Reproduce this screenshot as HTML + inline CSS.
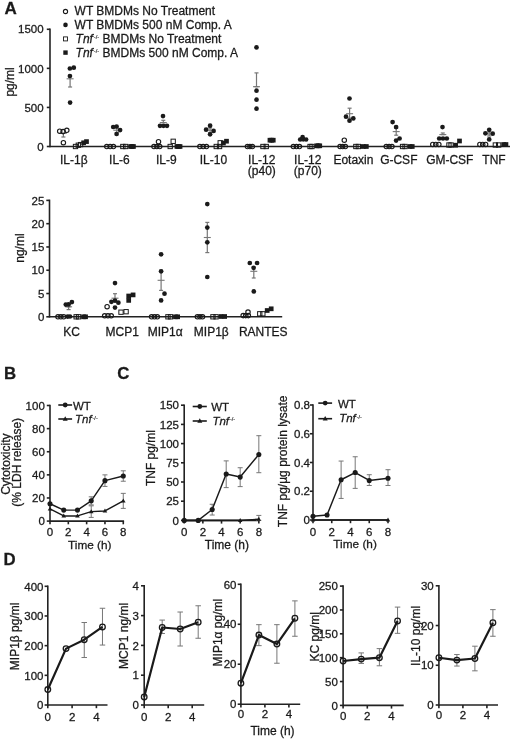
<!DOCTYPE html>
<html><head><meta charset="utf-8"><style>
html,body{margin:0;padding:0;background:#fff;}
svg{display:block;font-family:"Liberation Sans",sans-serif;will-change:transform;}
text{stroke:#1a1a1a;stroke-width:0.28px;}
</style></head><body>
<svg width="520" height="739" viewBox="0 0 520 739" fill="#1a1a1a">
<text x="4.4" y="13.6" font-size="17" font-weight="bold">A</text>
<text x="3.9" y="378.7" font-size="16.8" font-weight="bold">B</text>
<text x="117.3" y="378.7" font-size="16.8" font-weight="bold">C</text>
<text x="3.6" y="564.8" font-size="16.8" font-weight="bold">D</text>
<line x1="50" y1="28.5" x2="50" y2="147.3" stroke="#222" stroke-width="1.6"/>
<line x1="50" y1="146.5" x2="510" y2="146.5" stroke="#222" stroke-width="1.6"/>
<line x1="46.8" y1="146.5" x2="50" y2="146.5" stroke="#222" stroke-width="1.6"/>
<text x="43.6" y="150.7" font-size="11.5" text-anchor="end">0</text>
<line x1="46.8" y1="107.43" x2="50" y2="107.43" stroke="#222" stroke-width="1.6"/>
<text x="43.6" y="111.63" font-size="11.5" text-anchor="end">500</text>
<line x1="46.8" y1="68.36" x2="50" y2="68.36" stroke="#222" stroke-width="1.6"/>
<text x="43.6" y="72.56" font-size="11.5" text-anchor="end">1000</text>
<line x1="46.8" y1="29.29" x2="50" y2="29.29" stroke="#222" stroke-width="1.6"/>
<text x="43.6" y="33.49" font-size="11.5" text-anchor="end">1500</text>
<text x="13.6" y="81.9" font-size="12" text-anchor="middle" transform="rotate(-90 13.6 81.9)">pg/ml</text>
<text x="73.8" y="163.9" font-size="12" text-anchor="middle">IL-1β</text>
<text x="119.4" y="163.9" font-size="12" text-anchor="middle">IL-6</text>
<text x="166.3" y="163.9" font-size="12" text-anchor="middle">IL-9</text>
<text x="213.4" y="163.9" font-size="12" text-anchor="middle">IL-10</text>
<text x="261.8" y="163.9" font-size="12" text-anchor="middle">IL-12</text>
<text x="261.8" y="174.6" font-size="12" text-anchor="middle">(p40)</text>
<text x="307.8" y="163.9" font-size="12" text-anchor="middle">IL-12</text>
<text x="307.8" y="174.6" font-size="12" text-anchor="middle">(p70)</text>
<text x="353.4" y="163.9" font-size="12" text-anchor="middle">Eotaxin</text>
<text x="398.8" y="163.9" font-size="12" text-anchor="middle">G-CSF</text>
<text x="449.8" y="163.9" font-size="12" text-anchor="middle">GM-CSF</text>
<text x="494" y="163.9" font-size="12" text-anchor="middle">TNF</text>
<circle cx="65.5" cy="11.5" r="2.1" fill="#fff" stroke="#1a1a1a" stroke-width="1.1"/>
<text x="74.6" y="15.4" font-size="12">WT BMDMs No Treatment</text>
<circle cx="65.5" cy="24.9" r="2.3" fill="#1a1a1a"/>
<text x="74.6" y="29" font-size="12">WT BMDMs 500 nM Comp. A</text>
<rect x="63.5" y="36.9" width="4" height="4" fill="none" stroke="#1a1a1a" stroke-width="0.9"/>
<text x="75.6" y="42.9" font-size="12"><tspan font-style="italic">Tnf</tspan><tspan font-size="5.76" dx="0.9" dy="-3.96" style="stroke-width:0.15px">-/-</tspan><tspan dy="3.96"> BMDMs No Treatment</tspan></text>
<rect x="63.3" y="50.4" width="4.4" height="4.4" fill="#1a1a1a"/>
<text x="75.6" y="56.6" font-size="12"><tspan font-style="italic">Tnf</tspan><tspan font-size="5.76" dx="0.9" dy="-3.96" style="stroke-width:0.15px">-/-</tspan><tspan dy="3.96"> BMDMs 500 nM Comp. A</tspan></text>
<line x1="59.9" y1="133.2" x2="66.9" y2="133.2" stroke="#777777" stroke-width="1.1"/>
<line x1="63.4" y1="133.2" x2="63.4" y2="137" stroke="#777777" stroke-width="1.2"/>
<line x1="61.4" y1="133.2" x2="65.4" y2="133.2" stroke="#777777" stroke-width="1.2"/>
<line x1="61.4" y1="137" x2="65.4" y2="137" stroke="#777777" stroke-width="1.2"/>
<line x1="66.6" y1="78.8" x2="73.6" y2="78.8" stroke="#777777" stroke-width="1.1"/>
<line x1="70.1" y1="76" x2="70.1" y2="87" stroke="#777777" stroke-width="1.2"/>
<line x1="68.1" y1="76" x2="72.1" y2="76" stroke="#777777" stroke-width="1.2"/>
<line x1="68.1" y1="87" x2="72.1" y2="87" stroke="#777777" stroke-width="1.2"/>
<circle cx="59.7" cy="131.2" r="2.2" fill="none" stroke="#1a1a1a" stroke-width="1.15"/>
<circle cx="63.1" cy="131.6" r="2.2" fill="none" stroke="#1a1a1a" stroke-width="1.15"/>
<circle cx="66.8" cy="130.3" r="2.2" fill="none" stroke="#1a1a1a" stroke-width="1.15"/>
<circle cx="63.4" cy="142.7" r="2.2" fill="none" stroke="#1a1a1a" stroke-width="1.15"/>
<rect x="73.35" y="144.35" width="4.3" height="4.3" fill="none" stroke="#1a1a1a" stroke-width="1"/>
<rect x="76.15" y="143.05" width="4.3" height="4.3" fill="none" stroke="#1a1a1a" stroke-width="1"/>
<rect x="78.45" y="142.45" width="4.3" height="4.3" fill="none" stroke="#1a1a1a" stroke-width="1"/>
<rect x="81.25" y="140.45" width="4.7" height="4.7" fill="#1a1a1a"/>
<rect x="84.15" y="139.25" width="4.7" height="4.7" fill="#1a1a1a"/>
<circle cx="69.9" cy="68.5" r="2.35" fill="#1a1a1a"/>
<circle cx="73.8" cy="67.7" r="2.35" fill="#1a1a1a"/>
<circle cx="69.9" cy="76" r="2.35" fill="#1a1a1a"/>
<circle cx="70.1" cy="102.6" r="2.35" fill="#1a1a1a"/>
<line x1="113.3" y1="130.2" x2="120.3" y2="130.2" stroke="#777777" stroke-width="1.1"/>
<line x1="116.8" y1="128" x2="116.8" y2="132.5" stroke="#777777" stroke-width="1.2"/>
<line x1="114.8" y1="128" x2="118.8" y2="128" stroke="#777777" stroke-width="1.2"/>
<line x1="114.8" y1="132.5" x2="118.8" y2="132.5" stroke="#777777" stroke-width="1.2"/>
<circle cx="106.78" cy="146.5" r="2.2" fill="none" stroke="#1a1a1a" stroke-width="1.15"/>
<circle cx="110.1" cy="146.5" r="2.2" fill="none" stroke="#1a1a1a" stroke-width="1.15"/>
<circle cx="113.42" cy="146.5" r="2.2" fill="none" stroke="#1a1a1a" stroke-width="1.15"/>
<rect x="120.7" y="144.35" width="4.3" height="4.3" fill="none" stroke="#1a1a1a" stroke-width="1"/>
<rect x="123.5" y="144.35" width="4.3" height="4.3" fill="none" stroke="#1a1a1a" stroke-width="1"/>
<rect x="128.3" y="144.15" width="4.7" height="4.7" fill="#1a1a1a"/>
<rect x="129.7" y="144.15" width="4.7" height="4.7" fill="#1a1a1a"/>
<rect x="131.1" y="144.15" width="4.7" height="4.7" fill="#1a1a1a"/>
<circle cx="113.2" cy="127" r="2.35" fill="#1a1a1a"/>
<circle cx="116.6" cy="126.5" r="2.35" fill="#1a1a1a"/>
<circle cx="120.1" cy="130.1" r="2.35" fill="#1a1a1a"/>
<circle cx="116.6" cy="134" r="2.35" fill="#1a1a1a"/>
<line x1="159.8" y1="122.6" x2="166.8" y2="122.6" stroke="#777777" stroke-width="1.1"/>
<line x1="163.3" y1="120.3" x2="163.3" y2="122.6" stroke="#777777" stroke-width="1.2"/>
<line x1="161.3" y1="120.3" x2="165.3" y2="120.3" stroke="#777777" stroke-width="1.2"/>
<line x1="161.3" y1="122.6" x2="165.3" y2="122.6" stroke="#777777" stroke-width="1.2"/>
<circle cx="153.97" cy="146.5" r="2.2" fill="none" stroke="#1a1a1a" stroke-width="1.15"/>
<circle cx="156.85" cy="146.5" r="2.2" fill="none" stroke="#1a1a1a" stroke-width="1.15"/>
<circle cx="159.72" cy="146.5" r="2.2" fill="none" stroke="#1a1a1a" stroke-width="1.15"/>
<circle cx="158.5" cy="141.7" r="2.2" fill="none" stroke="#1a1a1a" stroke-width="1.15"/>
<rect x="168.05" y="144.35" width="4.3" height="4.3" fill="none" stroke="#1a1a1a" stroke-width="1"/>
<rect x="171.05" y="139.15" width="4.3" height="4.3" fill="none" stroke="#1a1a1a" stroke-width="1"/>
<rect x="174.6" y="144.15" width="4.7" height="4.7" fill="#1a1a1a"/>
<rect x="176.15" y="144.15" width="4.7" height="4.7" fill="#1a1a1a"/>
<rect x="177.7" y="144.15" width="4.7" height="4.7" fill="#1a1a1a"/>
<circle cx="163" cy="116.1" r="2.35" fill="#1a1a1a"/>
<circle cx="160" cy="125.8" r="2.35" fill="#1a1a1a"/>
<circle cx="163.5" cy="125.8" r="2.35" fill="#1a1a1a"/>
<circle cx="167" cy="125.8" r="2.35" fill="#1a1a1a"/>
<line x1="206.6" y1="130.2" x2="213.6" y2="130.2" stroke="#777777" stroke-width="1.1"/>
<line x1="210.1" y1="128" x2="210.1" y2="132.5" stroke="#777777" stroke-width="1.2"/>
<line x1="208.1" y1="128" x2="212.1" y2="128" stroke="#777777" stroke-width="1.2"/>
<line x1="208.1" y1="132.5" x2="212.1" y2="132.5" stroke="#777777" stroke-width="1.2"/>
<circle cx="199.88" cy="146.5" r="2.2" fill="none" stroke="#1a1a1a" stroke-width="1.15"/>
<circle cx="203.15" cy="146.5" r="2.2" fill="none" stroke="#1a1a1a" stroke-width="1.15"/>
<circle cx="206.42" cy="146.5" r="2.2" fill="none" stroke="#1a1a1a" stroke-width="1.15"/>
<rect x="214.1" y="144.35" width="4.3" height="4.3" fill="none" stroke="#1a1a1a" stroke-width="1"/>
<rect x="217.4" y="144.35" width="4.3" height="4.3" fill="none" stroke="#1a1a1a" stroke-width="1"/>
<rect x="218.05" y="140.65" width="4.3" height="4.3" fill="none" stroke="#1a1a1a" stroke-width="1"/>
<rect x="221.05" y="140.65" width="4.7" height="4.7" fill="#1a1a1a"/>
<rect x="224.15" y="138.85" width="4.7" height="4.7" fill="#1a1a1a"/>
<circle cx="210.1" cy="125.7" r="2.35" fill="#1a1a1a"/>
<circle cx="206.1" cy="129.7" r="2.35" fill="#1a1a1a"/>
<circle cx="213.6" cy="130.9" r="2.35" fill="#1a1a1a"/>
<circle cx="210.1" cy="134.3" r="2.35" fill="#1a1a1a"/>
<line x1="253" y1="86.7" x2="260" y2="86.7" stroke="#777777" stroke-width="1.1"/>
<line x1="256.5" y1="72.9" x2="256.5" y2="86.7" stroke="#777777" stroke-width="1.2"/>
<line x1="254.5" y1="72.9" x2="258.5" y2="72.9" stroke="#777777" stroke-width="1.2"/>
<line x1="254.5" y1="86.7" x2="258.5" y2="86.7" stroke="#777777" stroke-width="1.2"/>
<circle cx="247.47" cy="146.5" r="2.2" fill="none" stroke="#1a1a1a" stroke-width="1.15"/>
<circle cx="249.9" cy="146.5" r="2.2" fill="none" stroke="#1a1a1a" stroke-width="1.15"/>
<circle cx="252.32" cy="146.5" r="2.2" fill="none" stroke="#1a1a1a" stroke-width="1.15"/>
<rect x="260.8" y="144.35" width="4.3" height="4.3" fill="none" stroke="#1a1a1a" stroke-width="1"/>
<rect x="264.1" y="144.35" width="4.3" height="4.3" fill="none" stroke="#1a1a1a" stroke-width="1"/>
<rect x="267.6" y="137.85" width="4.7" height="4.7" fill="#1a1a1a"/>
<rect x="269.25" y="137.85" width="4.7" height="4.7" fill="#1a1a1a"/>
<rect x="270.9" y="137.85" width="4.7" height="4.7" fill="#1a1a1a"/>
<circle cx="256.5" cy="47.4" r="2.35" fill="#1a1a1a"/>
<circle cx="256.5" cy="90.7" r="2.35" fill="#1a1a1a"/>
<circle cx="256.5" cy="99.7" r="2.35" fill="#1a1a1a"/>
<circle cx="256.5" cy="108.7" r="2.35" fill="#1a1a1a"/>
<circle cx="293.38" cy="146.5" r="2.2" fill="none" stroke="#1a1a1a" stroke-width="1.15"/>
<circle cx="296.4" cy="146.5" r="2.2" fill="none" stroke="#1a1a1a" stroke-width="1.15"/>
<circle cx="299.43" cy="146.5" r="2.2" fill="none" stroke="#1a1a1a" stroke-width="1.15"/>
<rect x="307.9" y="144.35" width="4.3" height="4.3" fill="none" stroke="#1a1a1a" stroke-width="1"/>
<rect x="309.8" y="144.35" width="4.3" height="4.3" fill="none" stroke="#1a1a1a" stroke-width="1"/>
<rect x="314.3" y="143.45" width="4.7" height="4.7" fill="#1a1a1a"/>
<rect x="315.85" y="143.45" width="4.7" height="4.7" fill="#1a1a1a"/>
<rect x="317.4" y="143.45" width="4.7" height="4.7" fill="#1a1a1a"/>
<circle cx="300.2" cy="139.5" r="2.35" fill="#1a1a1a"/>
<circle cx="303.2" cy="139.3" r="2.35" fill="#1a1a1a"/>
<circle cx="302.6" cy="137.2" r="2.35" fill="#1a1a1a"/>
<circle cx="306.1" cy="139.5" r="2.35" fill="#1a1a1a"/>
<line x1="346.1" y1="113.7" x2="353.1" y2="113.7" stroke="#777777" stroke-width="1.1"/>
<line x1="349.6" y1="108.2" x2="349.6" y2="118" stroke="#777777" stroke-width="1.2"/>
<line x1="347.6" y1="108.2" x2="351.6" y2="108.2" stroke="#777777" stroke-width="1.2"/>
<line x1="347.6" y1="118" x2="351.6" y2="118" stroke="#777777" stroke-width="1.2"/>
<circle cx="340.07" cy="146.5" r="2.2" fill="none" stroke="#1a1a1a" stroke-width="1.15"/>
<circle cx="342.7" cy="146.5" r="2.2" fill="none" stroke="#1a1a1a" stroke-width="1.15"/>
<circle cx="345.33" cy="146.5" r="2.2" fill="none" stroke="#1a1a1a" stroke-width="1.15"/>
<circle cx="344.3" cy="140.2" r="2.2" fill="none" stroke="#1a1a1a" stroke-width="1.15"/>
<rect x="353.7" y="144.35" width="4.3" height="4.3" fill="none" stroke="#1a1a1a" stroke-width="1"/>
<rect x="356.2" y="144.35" width="4.3" height="4.3" fill="none" stroke="#1a1a1a" stroke-width="1"/>
<rect x="361" y="144.15" width="4.7" height="4.7" fill="#1a1a1a"/>
<rect x="364" y="144.15" width="4.7" height="4.7" fill="#1a1a1a"/>
<circle cx="349.5" cy="98.5" r="2.35" fill="#1a1a1a"/>
<circle cx="346" cy="116.7" r="2.35" fill="#1a1a1a"/>
<circle cx="349.5" cy="120.7" r="2.35" fill="#1a1a1a"/>
<circle cx="353.3" cy="118.4" r="2.35" fill="#1a1a1a"/>
<line x1="392.7" y1="131.6" x2="399.7" y2="131.6" stroke="#777777" stroke-width="1.1"/>
<line x1="396.2" y1="128.4" x2="396.2" y2="135.2" stroke="#777777" stroke-width="1.2"/>
<line x1="394.2" y1="128.4" x2="398.2" y2="128.4" stroke="#777777" stroke-width="1.2"/>
<line x1="394.2" y1="135.2" x2="398.2" y2="135.2" stroke="#777777" stroke-width="1.2"/>
<circle cx="386.27" cy="146.5" r="2.2" fill="none" stroke="#1a1a1a" stroke-width="1.15"/>
<circle cx="389.1" cy="146.5" r="2.2" fill="none" stroke="#1a1a1a" stroke-width="1.15"/>
<circle cx="391.93" cy="146.5" r="2.2" fill="none" stroke="#1a1a1a" stroke-width="1.15"/>
<rect x="400.4" y="144.35" width="4.3" height="4.3" fill="none" stroke="#1a1a1a" stroke-width="1"/>
<rect x="402.9" y="144.35" width="4.3" height="4.3" fill="none" stroke="#1a1a1a" stroke-width="1"/>
<rect x="407.7" y="144.15" width="4.7" height="4.7" fill="#1a1a1a"/>
<rect x="409.9" y="144.15" width="4.7" height="4.7" fill="#1a1a1a"/>
<circle cx="392.6" cy="122.1" r="2.35" fill="#1a1a1a"/>
<circle cx="396.1" cy="127.1" r="2.35" fill="#1a1a1a"/>
<circle cx="399.6" cy="138.5" r="2.35" fill="#1a1a1a"/>
<circle cx="396.1" cy="140.6" r="2.35" fill="#1a1a1a"/>
<line x1="439.3" y1="134.6" x2="446.3" y2="134.6" stroke="#777777" stroke-width="1.1"/>
<line x1="442.8" y1="133" x2="442.8" y2="134.6" stroke="#777777" stroke-width="1.2"/>
<line x1="440.8" y1="133" x2="444.8" y2="133" stroke="#777777" stroke-width="1.2"/>
<line x1="440.8" y1="134.6" x2="444.8" y2="134.6" stroke="#777777" stroke-width="1.2"/>
<circle cx="432.77" cy="144.4" r="2.2" fill="none" stroke="#1a1a1a" stroke-width="1.15"/>
<circle cx="435.8" cy="144.4" r="2.2" fill="none" stroke="#1a1a1a" stroke-width="1.15"/>
<circle cx="438.83" cy="144.4" r="2.2" fill="none" stroke="#1a1a1a" stroke-width="1.15"/>
<rect x="446.8" y="142.85" width="4.3" height="4.3" fill="none" stroke="#1a1a1a" stroke-width="1"/>
<rect x="448.9" y="142.85" width="4.3" height="4.3" fill="none" stroke="#1a1a1a" stroke-width="1"/>
<rect x="453.25" y="142.85" width="4.7" height="4.7" fill="#1a1a1a"/>
<rect x="457.15" y="138.65" width="4.7" height="4.7" fill="#1a1a1a"/>
<circle cx="442.5" cy="127.1" r="2.35" fill="#1a1a1a"/>
<circle cx="439.2" cy="138.5" r="2.35" fill="#1a1a1a"/>
<circle cx="443" cy="138.5" r="2.35" fill="#1a1a1a"/>
<circle cx="446.8" cy="138.5" r="2.35" fill="#1a1a1a"/>
<line x1="485.7" y1="134" x2="492.7" y2="134" stroke="#777777" stroke-width="1.1"/>
<line x1="489.2" y1="132" x2="489.2" y2="136" stroke="#777777" stroke-width="1.2"/>
<line x1="487.2" y1="132" x2="491.2" y2="132" stroke="#777777" stroke-width="1.2"/>
<line x1="487.2" y1="136" x2="491.2" y2="136" stroke="#777777" stroke-width="1.2"/>
<circle cx="479.88" cy="144.4" r="2.2" fill="none" stroke="#1a1a1a" stroke-width="1.15"/>
<circle cx="482.75" cy="144.4" r="2.2" fill="none" stroke="#1a1a1a" stroke-width="1.15"/>
<circle cx="485.62" cy="144.4" r="2.2" fill="none" stroke="#1a1a1a" stroke-width="1.15"/>
<rect x="493.2" y="142.85" width="4.3" height="4.3" fill="none" stroke="#1a1a1a" stroke-width="1"/>
<rect x="496.5" y="142.85" width="4.3" height="4.3" fill="none" stroke="#1a1a1a" stroke-width="1"/>
<rect x="501.3" y="142.15" width="4.7" height="4.7" fill="#1a1a1a"/>
<rect x="503.6" y="142.15" width="4.7" height="4.7" fill="#1a1a1a"/>
<circle cx="489.2" cy="129.8" r="2.35" fill="#1a1a1a"/>
<circle cx="485.4" cy="133.3" r="2.35" fill="#1a1a1a"/>
<circle cx="492.7" cy="133.7" r="2.35" fill="#1a1a1a"/>
<circle cx="489.2" cy="139.4" r="2.35" fill="#1a1a1a"/>
<line x1="49.5" y1="199.6" x2="49.5" y2="317.6" stroke="#222" stroke-width="1.6"/>
<line x1="49.5" y1="316.8" x2="282.2" y2="316.8" stroke="#222" stroke-width="1.6"/>
<line x1="46.3" y1="316.8" x2="49.5" y2="316.8" stroke="#222" stroke-width="1.6"/>
<text x="44.3" y="321" font-size="11.5" text-anchor="end">0</text>
<line x1="46.3" y1="293.52" x2="49.5" y2="293.52" stroke="#222" stroke-width="1.6"/>
<text x="44.3" y="297.72" font-size="11.5" text-anchor="end">5</text>
<line x1="46.3" y1="270.24" x2="49.5" y2="270.24" stroke="#222" stroke-width="1.6"/>
<text x="44.3" y="274.44" font-size="11.5" text-anchor="end">10</text>
<line x1="46.3" y1="246.96" x2="49.5" y2="246.96" stroke="#222" stroke-width="1.6"/>
<text x="44.3" y="251.16" font-size="11.5" text-anchor="end">15</text>
<line x1="46.3" y1="223.68" x2="49.5" y2="223.68" stroke="#222" stroke-width="1.6"/>
<text x="44.3" y="227.88" font-size="11.5" text-anchor="end">20</text>
<line x1="46.3" y1="200.4" x2="49.5" y2="200.4" stroke="#222" stroke-width="1.6"/>
<text x="44.3" y="204.6" font-size="11.5" text-anchor="end">25</text>
<text x="23.8" y="248.1" font-size="12" text-anchor="middle" transform="rotate(-90 23.8 248.1)">ng/ml</text>
<text x="71.5" y="335.6" font-size="12" text-anchor="middle">KC</text>
<text x="122.2" y="335.6" font-size="12" text-anchor="middle">MCP1</text>
<text x="165.2" y="335.6" font-size="12" text-anchor="middle">MIP1α</text>
<text x="211.3" y="335.6" font-size="12" text-anchor="middle">MIP1β</text>
<text x="263.3" y="335.6" font-size="12" text-anchor="middle">RANTES</text>
<line x1="65.1" y1="306.8" x2="72.1" y2="306.8" stroke="#777777" stroke-width="1.1"/>
<line x1="68.6" y1="306.8" x2="68.6" y2="309.6" stroke="#777777" stroke-width="1.2"/>
<line x1="66.6" y1="306.8" x2="70.6" y2="306.8" stroke="#777777" stroke-width="1.2"/>
<line x1="66.6" y1="309.6" x2="70.6" y2="309.6" stroke="#777777" stroke-width="1.2"/>
<circle cx="57.98" cy="316.8" r="2.2" fill="none" stroke="#1a1a1a" stroke-width="1.15"/>
<circle cx="60.85" cy="316.8" r="2.2" fill="none" stroke="#1a1a1a" stroke-width="1.15"/>
<circle cx="63.73" cy="316.8" r="2.2" fill="none" stroke="#1a1a1a" stroke-width="1.15"/>
<rect x="74" y="314.65" width="4.3" height="4.3" fill="none" stroke="#1a1a1a" stroke-width="1"/>
<rect x="76.4" y="314.65" width="4.3" height="4.3" fill="none" stroke="#1a1a1a" stroke-width="1"/>
<rect x="81.2" y="314.45" width="4.7" height="4.7" fill="#1a1a1a"/>
<rect x="83.2" y="314.45" width="4.7" height="4.7" fill="#1a1a1a"/>
<circle cx="65.8" cy="304.6" r="2.35" fill="#1a1a1a"/>
<circle cx="68.6" cy="304.4" r="2.35" fill="#1a1a1a"/>
<circle cx="71.9" cy="302.1" r="2.35" fill="#1a1a1a"/>
<circle cx="67.6" cy="316.6" r="2.35" fill="#1a1a1a"/>
<circle cx="70" cy="316.5" r="2.35" fill="#1a1a1a"/>
<line x1="111.5" y1="298.2" x2="118.5" y2="298.2" stroke="#777777" stroke-width="1.1"/>
<line x1="115" y1="293.7" x2="115" y2="302" stroke="#777777" stroke-width="1.2"/>
<line x1="113" y1="293.7" x2="117" y2="293.7" stroke="#777777" stroke-width="1.2"/>
<line x1="113" y1="302" x2="117" y2="302" stroke="#777777" stroke-width="1.2"/>
<circle cx="104.68" cy="315.8" r="2.2" fill="none" stroke="#1a1a1a" stroke-width="1.15"/>
<circle cx="107.95" cy="315.8" r="2.2" fill="none" stroke="#1a1a1a" stroke-width="1.15"/>
<circle cx="111.22" cy="315.8" r="2.2" fill="none" stroke="#1a1a1a" stroke-width="1.15"/>
<circle cx="107.1" cy="306.7" r="2.2" fill="none" stroke="#1a1a1a" stroke-width="1.15"/>
<rect x="118.85" y="310.05" width="4.3" height="4.3" fill="none" stroke="#1a1a1a" stroke-width="1"/>
<rect x="123.95" y="309.55" width="4.3" height="4.3" fill="none" stroke="#1a1a1a" stroke-width="1"/>
<rect x="126.35" y="298.05" width="4.7" height="4.7" fill="#1a1a1a"/>
<rect x="126.35" y="293.65" width="4.7" height="4.7" fill="#1a1a1a"/>
<rect x="130.75" y="292.55" width="4.7" height="4.7" fill="#1a1a1a"/>
<circle cx="115" cy="283.1" r="2.35" fill="#1a1a1a"/>
<circle cx="111.4" cy="301.8" r="2.35" fill="#1a1a1a"/>
<circle cx="115" cy="300.6" r="2.35" fill="#1a1a1a"/>
<circle cx="118.4" cy="302.7" r="2.35" fill="#1a1a1a"/>
<circle cx="115" cy="307.6" r="2.35" fill="#1a1a1a"/>
<line x1="157.6" y1="280.3" x2="164.6" y2="280.3" stroke="#777777" stroke-width="1.1"/>
<line x1="161.1" y1="270.3" x2="161.1" y2="290.4" stroke="#777777" stroke-width="1.2"/>
<line x1="159.1" y1="270.3" x2="163.1" y2="270.3" stroke="#777777" stroke-width="1.2"/>
<line x1="159.1" y1="290.4" x2="163.1" y2="290.4" stroke="#777777" stroke-width="1.2"/>
<circle cx="151.58" cy="316.8" r="2.2" fill="none" stroke="#1a1a1a" stroke-width="1.15"/>
<circle cx="154.45" cy="316.8" r="2.2" fill="none" stroke="#1a1a1a" stroke-width="1.15"/>
<circle cx="157.32" cy="316.8" r="2.2" fill="none" stroke="#1a1a1a" stroke-width="1.15"/>
<rect x="165.8" y="314.65" width="4.3" height="4.3" fill="none" stroke="#1a1a1a" stroke-width="1"/>
<rect x="168.3" y="314.65" width="4.3" height="4.3" fill="none" stroke="#1a1a1a" stroke-width="1"/>
<rect x="173.1" y="314.45" width="4.7" height="4.7" fill="#1a1a1a"/>
<rect x="175.3" y="314.45" width="4.7" height="4.7" fill="#1a1a1a"/>
<circle cx="161.1" cy="254.3" r="2.35" fill="#1a1a1a"/>
<circle cx="161.1" cy="271.3" r="2.35" fill="#1a1a1a"/>
<circle cx="164.5" cy="293.7" r="2.35" fill="#1a1a1a"/>
<circle cx="161.1" cy="300.4" r="2.35" fill="#1a1a1a"/>
<line x1="203.8" y1="237.5" x2="210.8" y2="237.5" stroke="#777777" stroke-width="1.1"/>
<line x1="207.3" y1="222.4" x2="207.3" y2="252.6" stroke="#777777" stroke-width="1.2"/>
<line x1="205.3" y1="222.4" x2="209.3" y2="222.4" stroke="#777777" stroke-width="1.2"/>
<line x1="205.3" y1="252.6" x2="209.3" y2="252.6" stroke="#777777" stroke-width="1.2"/>
<circle cx="197.38" cy="316.8" r="2.2" fill="none" stroke="#1a1a1a" stroke-width="1.15"/>
<circle cx="199.95" cy="316.8" r="2.2" fill="none" stroke="#1a1a1a" stroke-width="1.15"/>
<circle cx="202.53" cy="316.8" r="2.2" fill="none" stroke="#1a1a1a" stroke-width="1.15"/>
<rect x="210.8" y="314.65" width="4.3" height="4.3" fill="none" stroke="#1a1a1a" stroke-width="1"/>
<rect x="213.9" y="314.65" width="4.3" height="4.3" fill="none" stroke="#1a1a1a" stroke-width="1"/>
<rect x="218.7" y="314.15" width="4.7" height="4.7" fill="#1a1a1a"/>
<rect x="222.3" y="314.15" width="4.7" height="4.7" fill="#1a1a1a"/>
<circle cx="207.3" cy="204.1" r="2.35" fill="#1a1a1a"/>
<circle cx="207.3" cy="227.6" r="2.35" fill="#1a1a1a"/>
<circle cx="207.3" cy="242.3" r="2.35" fill="#1a1a1a"/>
<circle cx="207.3" cy="277" r="2.35" fill="#1a1a1a"/>
<line x1="250.3" y1="271.3" x2="257.3" y2="271.3" stroke="#777777" stroke-width="1.1"/>
<line x1="253.8" y1="267" x2="253.8" y2="278" stroke="#777777" stroke-width="1.2"/>
<line x1="251.8" y1="267" x2="255.8" y2="267" stroke="#777777" stroke-width="1.2"/>
<line x1="251.8" y1="278" x2="255.8" y2="278" stroke="#777777" stroke-width="1.2"/>
<circle cx="243.18" cy="315.6" r="2.2" fill="none" stroke="#1a1a1a" stroke-width="1.15"/>
<circle cx="245.75" cy="315.6" r="2.2" fill="none" stroke="#1a1a1a" stroke-width="1.15"/>
<circle cx="248.32" cy="315.6" r="2.2" fill="none" stroke="#1a1a1a" stroke-width="1.15"/>
<circle cx="248" cy="312" r="2.2" fill="none" stroke="#1a1a1a" stroke-width="1.15"/>
<rect x="257.6" y="311.65" width="4.3" height="4.3" fill="none" stroke="#1a1a1a" stroke-width="1"/>
<rect x="260.7" y="311.65" width="4.3" height="4.3" fill="none" stroke="#1a1a1a" stroke-width="1"/>
<rect x="264.85" y="308.15" width="4.7" height="4.7" fill="#1a1a1a"/>
<rect x="268.85" y="306.45" width="4.7" height="4.7" fill="#1a1a1a"/>
<circle cx="249.8" cy="263" r="2.35" fill="#1a1a1a"/>
<circle cx="257.1" cy="263" r="2.35" fill="#1a1a1a"/>
<circle cx="253.6" cy="267.8" r="2.35" fill="#1a1a1a"/>
<circle cx="253.8" cy="291.4" r="2.35" fill="#1a1a1a"/>
<line x1="50" y1="404.7" x2="50" y2="521.9" stroke="#222" stroke-width="1.6"/>
<line x1="50" y1="521.1" x2="124.08" y2="521.1" stroke="#222" stroke-width="1.6"/>
<line x1="46.8" y1="521.1" x2="50" y2="521.1" stroke="#222" stroke-width="1.6"/>
<text x="44.8" y="525.3" font-size="11.5" text-anchor="end">0</text>
<line x1="46.8" y1="497.98" x2="50" y2="497.98" stroke="#222" stroke-width="1.6"/>
<text x="44.8" y="502.18" font-size="11.5" text-anchor="end">20</text>
<line x1="46.8" y1="474.86" x2="50" y2="474.86" stroke="#222" stroke-width="1.6"/>
<text x="44.8" y="479.06" font-size="11.5" text-anchor="end">40</text>
<line x1="46.8" y1="451.74" x2="50" y2="451.74" stroke="#222" stroke-width="1.6"/>
<text x="44.8" y="455.94" font-size="11.5" text-anchor="end">60</text>
<line x1="46.8" y1="428.62" x2="50" y2="428.62" stroke="#222" stroke-width="1.6"/>
<text x="44.8" y="432.82" font-size="11.5" text-anchor="end">80</text>
<line x1="46.8" y1="405.5" x2="50" y2="405.5" stroke="#222" stroke-width="1.6"/>
<text x="44.8" y="409.7" font-size="11.5" text-anchor="end">100</text>
<line x1="50" y1="521.1" x2="50" y2="524.3" stroke="#222" stroke-width="1.6"/>
<text x="50" y="535.7" font-size="11.5" text-anchor="middle">0</text>
<line x1="68.32" y1="521.1" x2="68.32" y2="524.3" stroke="#222" stroke-width="1.6"/>
<text x="68.32" y="535.7" font-size="11.5" text-anchor="middle">2</text>
<line x1="86.64" y1="521.1" x2="86.64" y2="524.3" stroke="#222" stroke-width="1.6"/>
<text x="86.64" y="535.7" font-size="11.5" text-anchor="middle">4</text>
<line x1="104.96" y1="521.1" x2="104.96" y2="524.3" stroke="#222" stroke-width="1.6"/>
<text x="104.96" y="535.7" font-size="11.5" text-anchor="middle">6</text>
<line x1="123.28" y1="521.1" x2="123.28" y2="524.3" stroke="#222" stroke-width="1.6"/>
<text x="123.28" y="535.7" font-size="11.5" text-anchor="middle">8</text>
<text x="89.8" y="549.2" font-size="11.8" text-anchor="middle">Time (h)</text>
<text x="10.2" y="464.2" font-size="12" text-anchor="middle" transform="rotate(-90 10.2 464.2)">Cytotoxicity</text>
<text x="20.8" y="462.3" font-size="12" text-anchor="middle" transform="rotate(-90 20.8 462.3)">(% LDH release)</text>
<line x1="91.22" y1="496.82" x2="91.22" y2="504.92" stroke="#777777" stroke-width="1"/>
<line x1="88.72" y1="496.82" x2="93.72" y2="496.82" stroke="#777777" stroke-width="1"/>
<line x1="88.72" y1="504.92" x2="93.72" y2="504.92" stroke="#777777" stroke-width="1"/>
<line x1="104.96" y1="474.86" x2="104.96" y2="486.42" stroke="#777777" stroke-width="1"/>
<line x1="102.46" y1="474.86" x2="107.46" y2="474.86" stroke="#777777" stroke-width="1"/>
<line x1="102.46" y1="486.42" x2="107.46" y2="486.42" stroke="#777777" stroke-width="1"/>
<line x1="123.28" y1="470.81" x2="123.28" y2="481.22" stroke="#777777" stroke-width="1"/>
<line x1="120.78" y1="470.81" x2="125.78" y2="470.81" stroke="#777777" stroke-width="1"/>
<line x1="120.78" y1="481.22" x2="125.78" y2="481.22" stroke="#777777" stroke-width="1"/>
<line x1="91.22" y1="505.84" x2="91.22" y2="517.4" stroke="#777777" stroke-width="1"/>
<line x1="88.72" y1="505.84" x2="93.72" y2="505.84" stroke="#777777" stroke-width="1"/>
<line x1="88.72" y1="517.4" x2="93.72" y2="517.4" stroke="#777777" stroke-width="1"/>
<line x1="123.28" y1="493.36" x2="123.28" y2="508.38" stroke="#777777" stroke-width="1"/>
<line x1="120.78" y1="493.36" x2="125.78" y2="493.36" stroke="#777777" stroke-width="1"/>
<line x1="120.78" y1="508.38" x2="125.78" y2="508.38" stroke="#777777" stroke-width="1"/>
<polyline points="50,503.76 63.74,510.12 77.48,510.12 91.22,500.87 104.96,480.64 123.28,476.02" fill="none" stroke="#1a1a1a" stroke-width="1.45" stroke-linejoin="round"/>
<polyline points="50,508.96 63.74,515.9 77.48,515.9 91.22,511.62 104.96,510.93 123.28,500.87" fill="none" stroke="#1a1a1a" stroke-width="1.45" stroke-linejoin="round"/>
<circle cx="50" cy="503.76" r="2.55" fill="#1a1a1a"/>
<circle cx="63.74" cy="510.12" r="2.55" fill="#1a1a1a"/>
<circle cx="77.48" cy="510.12" r="2.55" fill="#1a1a1a"/>
<circle cx="91.22" cy="500.87" r="2.55" fill="#1a1a1a"/>
<circle cx="104.96" cy="480.64" r="2.55" fill="#1a1a1a"/>
<circle cx="123.28" cy="476.02" r="2.55" fill="#1a1a1a"/>
<polygon points="50,506.48 47.7,510.62 52.3,510.62" fill="#1a1a1a"/>
<polygon points="63.74,513.41 61.44,517.55 66.04,517.55" fill="#1a1a1a"/>
<polygon points="77.48,513.41 75.18,517.55 79.78,517.55" fill="#1a1a1a"/>
<polygon points="91.22,509.14 88.92,513.28 93.52,513.28" fill="#1a1a1a"/>
<polygon points="104.96,508.44 102.66,512.58 107.26,512.58" fill="#1a1a1a"/>
<polygon points="123.28,498.39 120.98,502.53 125.58,502.53" fill="#1a1a1a"/>
<line x1="58.3" y1="405" x2="72.1" y2="405" stroke="#1a1a1a" stroke-width="1.6"/>
<circle cx="65.2" cy="405" r="2.4" fill="#1a1a1a"/>
<text x="73" y="410" font-size="11.5">WT</text>
<line x1="58.3" y1="419" x2="72.1" y2="419" stroke="#1a1a1a" stroke-width="1.6"/>
<polygon points="65.2,416.3 62.7,420.8 67.7,420.8" fill="#1a1a1a"/>
<text x="75" y="423.3" font-size="11.5"><tspan font-style="italic">Tnf</tspan><tspan font-size="5.52" dx="0.9" dy="-3.8" style="stroke-width:0.15px">-/-</tspan><tspan dy="3.8"></tspan></text>
<line x1="184.2" y1="404.4" x2="184.2" y2="521.2" stroke="#222" stroke-width="1.6"/>
<line x1="184.2" y1="520.4" x2="259.64" y2="520.4" stroke="#222" stroke-width="1.6"/>
<line x1="181" y1="520.4" x2="184.2" y2="520.4" stroke="#222" stroke-width="1.6"/>
<text x="179" y="524.6" font-size="11.5" text-anchor="end">0</text>
<line x1="181" y1="501.2" x2="184.2" y2="501.2" stroke="#222" stroke-width="1.6"/>
<text x="179" y="505.4" font-size="11.5" text-anchor="end">25</text>
<line x1="181" y1="482" x2="184.2" y2="482" stroke="#222" stroke-width="1.6"/>
<text x="179" y="486.2" font-size="11.5" text-anchor="end">50</text>
<line x1="181" y1="462.8" x2="184.2" y2="462.8" stroke="#222" stroke-width="1.6"/>
<text x="179" y="467" font-size="11.5" text-anchor="end">75</text>
<line x1="181" y1="443.6" x2="184.2" y2="443.6" stroke="#222" stroke-width="1.6"/>
<text x="179" y="447.8" font-size="11.5" text-anchor="end">100</text>
<line x1="181" y1="424.4" x2="184.2" y2="424.4" stroke="#222" stroke-width="1.6"/>
<text x="179" y="428.6" font-size="11.5" text-anchor="end">125</text>
<line x1="181" y1="405.2" x2="184.2" y2="405.2" stroke="#222" stroke-width="1.6"/>
<text x="179" y="409.4" font-size="11.5" text-anchor="end">150</text>
<line x1="184.2" y1="520.4" x2="184.2" y2="523.6" stroke="#222" stroke-width="1.6"/>
<text x="184.2" y="536" font-size="11.5" text-anchor="middle">0</text>
<line x1="202.86" y1="520.4" x2="202.86" y2="523.6" stroke="#222" stroke-width="1.6"/>
<text x="202.86" y="536" font-size="11.5" text-anchor="middle">2</text>
<line x1="221.52" y1="520.4" x2="221.52" y2="523.6" stroke="#222" stroke-width="1.6"/>
<text x="221.52" y="536" font-size="11.5" text-anchor="middle">4</text>
<line x1="240.18" y1="520.4" x2="240.18" y2="523.6" stroke="#222" stroke-width="1.6"/>
<text x="240.18" y="536" font-size="11.5" text-anchor="middle">6</text>
<line x1="258.84" y1="520.4" x2="258.84" y2="523.6" stroke="#222" stroke-width="1.6"/>
<text x="258.84" y="536" font-size="11.5" text-anchor="middle">8</text>
<text x="226.9" y="548.5" font-size="12" text-anchor="middle">Time (h)</text>
<text x="155.4" y="458.1" font-size="12" text-anchor="middle" transform="rotate(-90 155.4 458.1)">TNF pg/ml</text>
<line x1="212.19" y1="504.27" x2="212.19" y2="515.02" stroke="#777777" stroke-width="1"/>
<line x1="209.69" y1="504.27" x2="214.69" y2="504.27" stroke="#777777" stroke-width="1"/>
<line x1="209.69" y1="515.02" x2="214.69" y2="515.02" stroke="#777777" stroke-width="1"/>
<line x1="226.19" y1="460.88" x2="226.19" y2="487.61" stroke="#777777" stroke-width="1"/>
<line x1="223.69" y1="460.88" x2="228.69" y2="460.88" stroke="#777777" stroke-width="1"/>
<line x1="223.69" y1="487.61" x2="228.69" y2="487.61" stroke="#777777" stroke-width="1"/>
<line x1="240.18" y1="467.72" x2="240.18" y2="486.61" stroke="#777777" stroke-width="1"/>
<line x1="237.68" y1="467.72" x2="242.68" y2="467.72" stroke="#777777" stroke-width="1"/>
<line x1="237.68" y1="486.61" x2="242.68" y2="486.61" stroke="#777777" stroke-width="1"/>
<line x1="258.84" y1="435.69" x2="258.84" y2="472.71" stroke="#777777" stroke-width="1"/>
<line x1="256.34" y1="435.69" x2="261.34" y2="435.69" stroke="#777777" stroke-width="1"/>
<line x1="256.34" y1="472.71" x2="261.34" y2="472.71" stroke="#777777" stroke-width="1"/>
<line x1="258.84" y1="515.41" x2="258.84" y2="520.4" stroke="#777777" stroke-width="1"/>
<line x1="256.34" y1="515.41" x2="261.34" y2="515.41" stroke="#777777" stroke-width="1"/>
<line x1="256.34" y1="520.4" x2="261.34" y2="520.4" stroke="#777777" stroke-width="1"/>
<polyline points="184.2,520.4 198.19,520.4 240.18,520.4 258.84,519.25" fill="none" stroke="#1a1a1a" stroke-width="1.45" stroke-linejoin="round"/>
<polyline points="184.2,520.4 198.19,520.4 212.19,509.49 226.19,474.01 240.18,477.08 258.84,454.43" fill="none" stroke="#1a1a1a" stroke-width="1.45" stroke-linejoin="round"/>
<polygon points="184.2,518.02 182,521.98 186.4,521.98" fill="#1a1a1a"/>
<polygon points="198.19,518.02 196,521.98 200.39,521.98" fill="#1a1a1a"/>
<polygon points="240.18,518.02 237.98,521.98 242.38,521.98" fill="#1a1a1a"/>
<polygon points="258.84,516.87 256.64,520.83 261.04,520.83" fill="#1a1a1a"/>
<circle cx="184.2" cy="520.4" r="2.55" fill="#1a1a1a"/>
<circle cx="198.19" cy="520.4" r="2.55" fill="#1a1a1a"/>
<circle cx="212.19" cy="509.49" r="2.55" fill="#1a1a1a"/>
<circle cx="226.19" cy="474.01" r="2.55" fill="#1a1a1a"/>
<circle cx="240.18" cy="477.08" r="2.55" fill="#1a1a1a"/>
<circle cx="258.84" cy="454.43" r="2.55" fill="#1a1a1a"/>
<line x1="192.7" y1="406.5" x2="206.8" y2="406.5" stroke="#1a1a1a" stroke-width="1.6"/>
<circle cx="199.8" cy="406.5" r="2.4" fill="#1a1a1a"/>
<text x="211.2" y="410.6" font-size="11.5">WT</text>
<line x1="192.7" y1="421" x2="206.8" y2="421" stroke="#1a1a1a" stroke-width="1.6"/>
<polygon points="199.8,418.3 197.3,422.8 202.3,422.8" fill="#1a1a1a"/>
<text x="212.4" y="425" font-size="11.5"><tspan font-style="italic">Tnf</tspan><tspan font-size="5.52" dx="0.9" dy="-3.8" style="stroke-width:0.15px">-/-</tspan><tspan dy="3.8"></tspan></text>
<line x1="313" y1="404.2" x2="313" y2="520.8" stroke="#222" stroke-width="1.6"/>
<line x1="313" y1="520" x2="388.8" y2="520" stroke="#222" stroke-width="1.6"/>
<line x1="309.8" y1="520" x2="313" y2="520" stroke="#222" stroke-width="1.6"/>
<text x="310" y="524.2" font-size="11.5" text-anchor="end">0</text>
<line x1="309.8" y1="491.25" x2="313" y2="491.25" stroke="#222" stroke-width="1.6"/>
<text x="310" y="495.45" font-size="11.5" text-anchor="end">0.2</text>
<line x1="309.8" y1="462.5" x2="313" y2="462.5" stroke="#222" stroke-width="1.6"/>
<text x="310" y="466.7" font-size="11.5" text-anchor="end">0.4</text>
<line x1="309.8" y1="433.75" x2="313" y2="433.75" stroke="#222" stroke-width="1.6"/>
<text x="310" y="437.95" font-size="11.5" text-anchor="end">0.6</text>
<line x1="309.8" y1="405" x2="313" y2="405" stroke="#222" stroke-width="1.6"/>
<text x="310" y="409.2" font-size="11.5" text-anchor="end">0.8</text>
<line x1="313" y1="520" x2="313" y2="523.2" stroke="#222" stroke-width="1.6"/>
<text x="313" y="535.6" font-size="11.5" text-anchor="middle">0</text>
<line x1="331.75" y1="520" x2="331.75" y2="523.2" stroke="#222" stroke-width="1.6"/>
<text x="331.75" y="535.6" font-size="11.5" text-anchor="middle">2</text>
<line x1="350.5" y1="520" x2="350.5" y2="523.2" stroke="#222" stroke-width="1.6"/>
<text x="350.5" y="535.6" font-size="11.5" text-anchor="middle">4</text>
<line x1="369.25" y1="520" x2="369.25" y2="523.2" stroke="#222" stroke-width="1.6"/>
<text x="369.25" y="535.6" font-size="11.5" text-anchor="middle">6</text>
<line x1="388" y1="520" x2="388" y2="523.2" stroke="#222" stroke-width="1.6"/>
<text x="388" y="535.6" font-size="11.5" text-anchor="middle">8</text>
<text x="355.1" y="548.3" font-size="11.8" text-anchor="middle">Time (h)</text>
<text x="286.6" y="461.3" font-size="12" text-anchor="middle" transform="rotate(-90 286.6 461.3)">TNF pg/µg protein lysate</text>
<line x1="341.12" y1="461.06" x2="341.12" y2="498.44" stroke="#777777" stroke-width="1"/>
<line x1="338.62" y1="461.06" x2="343.62" y2="461.06" stroke="#777777" stroke-width="1"/>
<line x1="338.62" y1="498.44" x2="343.62" y2="498.44" stroke="#777777" stroke-width="1"/>
<line x1="355.19" y1="456.75" x2="355.19" y2="488.38" stroke="#777777" stroke-width="1"/>
<line x1="352.69" y1="456.75" x2="357.69" y2="456.75" stroke="#777777" stroke-width="1"/>
<line x1="352.69" y1="488.38" x2="357.69" y2="488.38" stroke="#777777" stroke-width="1"/>
<line x1="369.25" y1="474.72" x2="369.25" y2="485.5" stroke="#777777" stroke-width="1"/>
<line x1="366.75" y1="474.72" x2="371.75" y2="474.72" stroke="#777777" stroke-width="1"/>
<line x1="366.75" y1="485.5" x2="371.75" y2="485.5" stroke="#777777" stroke-width="1"/>
<line x1="388" y1="469.69" x2="388" y2="485.5" stroke="#777777" stroke-width="1"/>
<line x1="385.5" y1="469.69" x2="390.5" y2="469.69" stroke="#777777" stroke-width="1"/>
<line x1="385.5" y1="485.5" x2="390.5" y2="485.5" stroke="#777777" stroke-width="1"/>
<polyline points="313,520 388,520" fill="none" stroke="#1a1a1a" stroke-width="1.45" stroke-linejoin="round"/>
<polyline points="313,516.26 327.06,514.97 341.12,479.75 355.19,472.56 369.25,480.47 388,478.31" fill="none" stroke="#1a1a1a" stroke-width="1.45" stroke-linejoin="round"/>
<polygon points="313,517.62 310.8,521.58 315.2,521.58" fill="#1a1a1a"/>
<polygon points="388,517.62 385.8,521.58 390.2,521.58" fill="#1a1a1a"/>
<circle cx="313" cy="516.26" r="2.55" fill="#1a1a1a"/>
<circle cx="327.06" cy="514.97" r="2.55" fill="#1a1a1a"/>
<circle cx="341.12" cy="479.75" r="2.55" fill="#1a1a1a"/>
<circle cx="355.19" cy="472.56" r="2.55" fill="#1a1a1a"/>
<circle cx="369.25" cy="480.47" r="2.55" fill="#1a1a1a"/>
<circle cx="388" cy="478.31" r="2.55" fill="#1a1a1a"/>
<line x1="318.3" y1="403.1" x2="332.1" y2="403.1" stroke="#1a1a1a" stroke-width="1.6"/>
<circle cx="325.2" cy="403.1" r="2.4" fill="#1a1a1a"/>
<text x="338" y="407.7" font-size="11.5">WT</text>
<line x1="318.3" y1="418.7" x2="332.1" y2="418.7" stroke="#1a1a1a" stroke-width="1.6"/>
<polygon points="325.2,416 322.7,420.5 327.7,420.5" fill="#1a1a1a"/>
<text x="339.2" y="422.4" font-size="11.5"><tspan font-style="italic">Tnf</tspan><tspan font-size="5.52" dx="0.9" dy="-3.8" style="stroke-width:0.15px">-/-</tspan><tspan dy="3.8"></tspan></text>
<line x1="47.8" y1="585.5" x2="47.8" y2="705.8" stroke="#222" stroke-width="1.6"/>
<line x1="47.8" y1="705" x2="107.5" y2="705" stroke="#222" stroke-width="1.6"/>
<line x1="44.6" y1="705" x2="47.8" y2="705" stroke="#222" stroke-width="1.6"/>
<text x="43.5" y="709.2" font-size="11.5" text-anchor="end">0</text>
<line x1="44.6" y1="675.33" x2="47.8" y2="675.33" stroke="#222" stroke-width="1.6"/>
<text x="43.5" y="679.53" font-size="11.5" text-anchor="end">100</text>
<line x1="44.6" y1="645.65" x2="47.8" y2="645.65" stroke="#222" stroke-width="1.6"/>
<text x="43.5" y="649.85" font-size="11.5" text-anchor="end">200</text>
<line x1="44.6" y1="615.97" x2="47.8" y2="615.97" stroke="#222" stroke-width="1.6"/>
<text x="43.5" y="620.17" font-size="11.5" text-anchor="end">300</text>
<line x1="44.6" y1="586.3" x2="47.8" y2="586.3" stroke="#222" stroke-width="1.6"/>
<text x="43.5" y="590.5" font-size="11.5" text-anchor="end">400</text>
<line x1="47.8" y1="705" x2="47.8" y2="708.2" stroke="#222" stroke-width="1.6"/>
<text x="47.8" y="721.2" font-size="11.5" text-anchor="middle">0</text>
<line x1="72.1" y1="705" x2="72.1" y2="708.2" stroke="#222" stroke-width="1.6"/>
<text x="72.1" y="721.2" font-size="11.5" text-anchor="middle">2</text>
<line x1="96.4" y1="705" x2="96.4" y2="708.2" stroke="#222" stroke-width="1.6"/>
<text x="96.4" y="721.2" font-size="11.5" text-anchor="middle">4</text>
<text x="19.2" y="636.4" font-size="12" text-anchor="middle" transform="rotate(-90 19.2 636.4)">MIP1β pg/ml</text>
<line x1="84.25" y1="622.5" x2="84.25" y2="657.52" stroke="#777777" stroke-width="1"/>
<line x1="81.5" y1="622.5" x2="87" y2="622.5" stroke="#777777" stroke-width="1"/>
<line x1="81.5" y1="657.52" x2="87" y2="657.52" stroke="#777777" stroke-width="1"/>
<line x1="102.47" y1="608.26" x2="102.47" y2="645.06" stroke="#777777" stroke-width="1"/>
<line x1="99.72" y1="608.26" x2="105.22" y2="608.26" stroke="#777777" stroke-width="1"/>
<line x1="99.72" y1="645.06" x2="105.22" y2="645.06" stroke="#777777" stroke-width="1"/>
<polyline points="47.8,689.57 66.03,648.62 84.25,639.71 102.47,626.95" fill="none" stroke="#1a1a1a" stroke-width="2.2" stroke-linejoin="round"/>
<circle cx="47.8" cy="689.57" r="2.8" fill="none" stroke="#1a1a1a" stroke-width="1.3"/>
<circle cx="66.03" cy="648.62" r="2.8" fill="none" stroke="#1a1a1a" stroke-width="1.3"/>
<circle cx="84.25" cy="639.71" r="2.8" fill="none" stroke="#1a1a1a" stroke-width="1.3"/>
<circle cx="102.47" cy="626.95" r="2.8" fill="none" stroke="#1a1a1a" stroke-width="1.3"/>
<line x1="144.2" y1="585" x2="144.2" y2="705.8" stroke="#222" stroke-width="1.6"/>
<line x1="144.2" y1="705" x2="204.2" y2="705" stroke="#222" stroke-width="1.6"/>
<line x1="141" y1="705" x2="144.2" y2="705" stroke="#222" stroke-width="1.6"/>
<text x="139" y="709.2" font-size="11.5" text-anchor="end">0</text>
<line x1="141" y1="675.2" x2="144.2" y2="675.2" stroke="#222" stroke-width="1.6"/>
<text x="139" y="679.4" font-size="11.5" text-anchor="end">1</text>
<line x1="141" y1="645.4" x2="144.2" y2="645.4" stroke="#222" stroke-width="1.6"/>
<text x="139" y="649.6" font-size="11.5" text-anchor="end">2</text>
<line x1="141" y1="615.6" x2="144.2" y2="615.6" stroke="#222" stroke-width="1.6"/>
<text x="139" y="619.8" font-size="11.5" text-anchor="end">3</text>
<line x1="141" y1="585.8" x2="144.2" y2="585.8" stroke="#222" stroke-width="1.6"/>
<text x="139" y="590" font-size="11.5" text-anchor="end">4</text>
<line x1="144.2" y1="705" x2="144.2" y2="708.2" stroke="#222" stroke-width="1.6"/>
<text x="144.2" y="721.2" font-size="11.5" text-anchor="middle">0</text>
<line x1="168.2" y1="705" x2="168.2" y2="708.2" stroke="#222" stroke-width="1.6"/>
<text x="168.2" y="721.2" font-size="11.5" text-anchor="middle">2</text>
<line x1="192.2" y1="705" x2="192.2" y2="708.2" stroke="#222" stroke-width="1.6"/>
<text x="192.2" y="721.2" font-size="11.5" text-anchor="middle">4</text>
<text x="127.6" y="635.9" font-size="12" text-anchor="middle" transform="rotate(-90 127.6 635.9)">MCP1 ng/ml</text>
<line x1="162.2" y1="620.07" x2="162.2" y2="633.48" stroke="#777777" stroke-width="1"/>
<line x1="159.45" y1="620.07" x2="164.95" y2="620.07" stroke="#777777" stroke-width="1"/>
<line x1="159.45" y1="633.48" x2="164.95" y2="633.48" stroke="#777777" stroke-width="1"/>
<line x1="180.2" y1="612.02" x2="180.2" y2="646" stroke="#777777" stroke-width="1"/>
<line x1="177.45" y1="612.02" x2="182.95" y2="612.02" stroke="#777777" stroke-width="1"/>
<line x1="177.45" y1="646" x2="182.95" y2="646" stroke="#777777" stroke-width="1"/>
<line x1="198.2" y1="605.77" x2="198.2" y2="638.25" stroke="#777777" stroke-width="1"/>
<line x1="195.45" y1="605.77" x2="200.95" y2="605.77" stroke="#777777" stroke-width="1"/>
<line x1="195.45" y1="638.25" x2="200.95" y2="638.25" stroke="#777777" stroke-width="1"/>
<polyline points="144.2,696.95 162.2,627.52 180.2,629.01 198.2,622.16" fill="none" stroke="#1a1a1a" stroke-width="2.2" stroke-linejoin="round"/>
<circle cx="144.2" cy="696.95" r="2.8" fill="none" stroke="#1a1a1a" stroke-width="1.3"/>
<circle cx="162.2" cy="627.52" r="2.8" fill="none" stroke="#1a1a1a" stroke-width="1.3"/>
<circle cx="180.2" cy="629.01" r="2.8" fill="none" stroke="#1a1a1a" stroke-width="1.3"/>
<circle cx="198.2" cy="622.16" r="2.8" fill="none" stroke="#1a1a1a" stroke-width="1.3"/>
<line x1="240.9" y1="583.5" x2="240.9" y2="705" stroke="#222" stroke-width="1.6"/>
<line x1="240.9" y1="704.2" x2="300.2" y2="704.2" stroke="#222" stroke-width="1.6"/>
<line x1="237.7" y1="704.2" x2="240.9" y2="704.2" stroke="#222" stroke-width="1.6"/>
<text x="236.5" y="708.4" font-size="11.5" text-anchor="end">0</text>
<line x1="237.7" y1="664.23" x2="240.9" y2="664.23" stroke="#222" stroke-width="1.6"/>
<text x="236.5" y="668.43" font-size="11.5" text-anchor="end">20</text>
<line x1="237.7" y1="624.27" x2="240.9" y2="624.27" stroke="#222" stroke-width="1.6"/>
<text x="236.5" y="628.47" font-size="11.5" text-anchor="end">40</text>
<line x1="237.7" y1="584.3" x2="240.9" y2="584.3" stroke="#222" stroke-width="1.6"/>
<text x="236.5" y="588.5" font-size="11.5" text-anchor="end">60</text>
<line x1="240.9" y1="704.2" x2="240.9" y2="707.4" stroke="#222" stroke-width="1.6"/>
<text x="240.9" y="718.3" font-size="11.5" text-anchor="middle">0</text>
<line x1="264.9" y1="704.2" x2="264.9" y2="707.4" stroke="#222" stroke-width="1.6"/>
<text x="264.9" y="718.3" font-size="11.5" text-anchor="middle">2</text>
<line x1="288.9" y1="704.2" x2="288.9" y2="707.4" stroke="#222" stroke-width="1.6"/>
<text x="288.9" y="718.3" font-size="11.5" text-anchor="middle">4</text>
<text x="222.2" y="632.6" font-size="12" text-anchor="middle" transform="rotate(-90 222.2 632.6)">MIP1α pg/ml</text>
<line x1="258.9" y1="624.67" x2="258.9" y2="645.65" stroke="#777777" stroke-width="1"/>
<line x1="256.15" y1="624.67" x2="261.65" y2="624.67" stroke="#777777" stroke-width="1"/>
<line x1="256.15" y1="645.65" x2="261.65" y2="645.65" stroke="#777777" stroke-width="1"/>
<line x1="276.9" y1="624.67" x2="276.9" y2="663.23" stroke="#777777" stroke-width="1"/>
<line x1="274.15" y1="624.67" x2="279.65" y2="624.67" stroke="#777777" stroke-width="1"/>
<line x1="274.15" y1="663.23" x2="279.65" y2="663.23" stroke="#777777" stroke-width="1"/>
<line x1="294.9" y1="600.89" x2="294.9" y2="636.26" stroke="#777777" stroke-width="1"/>
<line x1="292.15" y1="600.89" x2="297.65" y2="600.89" stroke="#777777" stroke-width="1"/>
<line x1="292.15" y1="636.26" x2="297.65" y2="636.26" stroke="#777777" stroke-width="1"/>
<polyline points="240.9,683.22 258.9,635.06 276.9,644.05 294.9,618.27" fill="none" stroke="#1a1a1a" stroke-width="2.2" stroke-linejoin="round"/>
<circle cx="240.9" cy="683.22" r="2.8" fill="none" stroke="#1a1a1a" stroke-width="1.3"/>
<circle cx="258.9" cy="635.06" r="2.8" fill="none" stroke="#1a1a1a" stroke-width="1.3"/>
<circle cx="276.9" cy="644.05" r="2.8" fill="none" stroke="#1a1a1a" stroke-width="1.3"/>
<circle cx="294.9" cy="618.27" r="2.8" fill="none" stroke="#1a1a1a" stroke-width="1.3"/>
<line x1="343.1" y1="585.3" x2="343.1" y2="706.2" stroke="#222" stroke-width="1.6"/>
<line x1="343.1" y1="705.4" x2="403.7" y2="705.4" stroke="#222" stroke-width="1.6"/>
<line x1="339.9" y1="705.4" x2="343.1" y2="705.4" stroke="#222" stroke-width="1.6"/>
<text x="337.9" y="709.6" font-size="11.5" text-anchor="end">0</text>
<line x1="339.9" y1="681.54" x2="343.1" y2="681.54" stroke="#222" stroke-width="1.6"/>
<text x="337.9" y="685.74" font-size="11.5" text-anchor="end">50</text>
<line x1="339.9" y1="657.68" x2="343.1" y2="657.68" stroke="#222" stroke-width="1.6"/>
<text x="337.9" y="661.88" font-size="11.5" text-anchor="end">100</text>
<line x1="339.9" y1="633.82" x2="343.1" y2="633.82" stroke="#222" stroke-width="1.6"/>
<text x="337.9" y="638.02" font-size="11.5" text-anchor="end">150</text>
<line x1="339.9" y1="609.96" x2="343.1" y2="609.96" stroke="#222" stroke-width="1.6"/>
<text x="337.9" y="614.16" font-size="11.5" text-anchor="end">200</text>
<line x1="339.9" y1="586.1" x2="343.1" y2="586.1" stroke="#222" stroke-width="1.6"/>
<text x="337.9" y="590.3" font-size="11.5" text-anchor="end">250</text>
<line x1="343.1" y1="705.4" x2="343.1" y2="708.6" stroke="#222" stroke-width="1.6"/>
<text x="343.1" y="719.7" font-size="11.5" text-anchor="middle">0</text>
<line x1="367.3" y1="705.4" x2="367.3" y2="708.6" stroke="#222" stroke-width="1.6"/>
<text x="367.3" y="719.7" font-size="11.5" text-anchor="middle">2</text>
<line x1="391.5" y1="705.4" x2="391.5" y2="708.6" stroke="#222" stroke-width="1.6"/>
<text x="391.5" y="719.7" font-size="11.5" text-anchor="middle">4</text>
<text x="319.2" y="636.8" font-size="12" text-anchor="middle" transform="rotate(-90 319.2 636.8)">KC pg/ml</text>
<line x1="361.25" y1="652.91" x2="361.25" y2="663.41" stroke="#777777" stroke-width="1"/>
<line x1="358.5" y1="652.91" x2="364" y2="652.91" stroke="#777777" stroke-width="1"/>
<line x1="358.5" y1="663.41" x2="364" y2="663.41" stroke="#777777" stroke-width="1"/>
<line x1="379.4" y1="648.61" x2="379.4" y2="665.79" stroke="#777777" stroke-width="1"/>
<line x1="376.65" y1="648.61" x2="382.15" y2="648.61" stroke="#777777" stroke-width="1"/>
<line x1="376.65" y1="665.79" x2="382.15" y2="665.79" stroke="#777777" stroke-width="1"/>
<line x1="397.55" y1="607.1" x2="397.55" y2="633.34" stroke="#777777" stroke-width="1"/>
<line x1="394.8" y1="607.1" x2="400.3" y2="607.1" stroke="#777777" stroke-width="1"/>
<line x1="394.8" y1="633.34" x2="400.3" y2="633.34" stroke="#777777" stroke-width="1"/>
<polyline points="343.1,661.02 361.25,659.11 379.4,657.68 397.55,620.94" fill="none" stroke="#1a1a1a" stroke-width="2.2" stroke-linejoin="round"/>
<circle cx="343.1" cy="661.02" r="2.8" fill="none" stroke="#1a1a1a" stroke-width="1.3"/>
<circle cx="361.25" cy="659.11" r="2.8" fill="none" stroke="#1a1a1a" stroke-width="1.3"/>
<circle cx="379.4" cy="657.68" r="2.8" fill="none" stroke="#1a1a1a" stroke-width="1.3"/>
<circle cx="397.55" cy="620.94" r="2.8" fill="none" stroke="#1a1a1a" stroke-width="1.3"/>
<line x1="438.9" y1="585" x2="438.9" y2="705.8" stroke="#222" stroke-width="1.6"/>
<line x1="438.9" y1="705" x2="498" y2="705" stroke="#222" stroke-width="1.6"/>
<line x1="435.7" y1="705" x2="438.9" y2="705" stroke="#222" stroke-width="1.6"/>
<text x="433.7" y="709.2" font-size="11.5" text-anchor="end">0</text>
<line x1="435.7" y1="665.27" x2="438.9" y2="665.27" stroke="#222" stroke-width="1.6"/>
<text x="433.7" y="669.47" font-size="11.5" text-anchor="end">10</text>
<line x1="435.7" y1="625.53" x2="438.9" y2="625.53" stroke="#222" stroke-width="1.6"/>
<text x="433.7" y="629.73" font-size="11.5" text-anchor="end">20</text>
<line x1="435.7" y1="585.8" x2="438.9" y2="585.8" stroke="#222" stroke-width="1.6"/>
<text x="433.7" y="590" font-size="11.5" text-anchor="end">30</text>
<line x1="438.9" y1="705" x2="438.9" y2="708.2" stroke="#222" stroke-width="1.6"/>
<text x="438.9" y="719.1" font-size="11.5" text-anchor="middle">0</text>
<line x1="462.9" y1="705" x2="462.9" y2="708.2" stroke="#222" stroke-width="1.6"/>
<text x="462.9" y="719.1" font-size="11.5" text-anchor="middle">2</text>
<line x1="486.9" y1="705" x2="486.9" y2="708.2" stroke="#222" stroke-width="1.6"/>
<text x="486.9" y="719.1" font-size="11.5" text-anchor="middle">4</text>
<text x="420" y="635.9" font-size="12" text-anchor="middle" transform="rotate(-90 420 635.9)">IL-10 pg/ml</text>
<line x1="456.9" y1="654.54" x2="456.9" y2="666.06" stroke="#777777" stroke-width="1"/>
<line x1="454.15" y1="654.54" x2="459.65" y2="654.54" stroke="#777777" stroke-width="1"/>
<line x1="454.15" y1="666.06" x2="459.65" y2="666.06" stroke="#777777" stroke-width="1"/>
<line x1="474.9" y1="646.19" x2="474.9" y2="670.83" stroke="#777777" stroke-width="1"/>
<line x1="472.15" y1="646.19" x2="477.65" y2="646.19" stroke="#777777" stroke-width="1"/>
<line x1="472.15" y1="670.83" x2="477.65" y2="670.83" stroke="#777777" stroke-width="1"/>
<line x1="492.9" y1="609.64" x2="492.9" y2="636.26" stroke="#777777" stroke-width="1"/>
<line x1="490.15" y1="609.64" x2="495.65" y2="609.64" stroke="#777777" stroke-width="1"/>
<line x1="490.15" y1="636.26" x2="495.65" y2="636.26" stroke="#777777" stroke-width="1"/>
<polyline points="438.9,657.72 456.9,660.1 474.9,658.51 492.9,622.75" fill="none" stroke="#1a1a1a" stroke-width="2.2" stroke-linejoin="round"/>
<circle cx="438.9" cy="657.72" r="2.8" fill="none" stroke="#1a1a1a" stroke-width="1.3"/>
<circle cx="456.9" cy="660.1" r="2.8" fill="none" stroke="#1a1a1a" stroke-width="1.3"/>
<circle cx="474.9" cy="658.51" r="2.8" fill="none" stroke="#1a1a1a" stroke-width="1.3"/>
<circle cx="492.9" cy="622.75" r="2.8" fill="none" stroke="#1a1a1a" stroke-width="1.3"/>
<text x="272.5" y="735.3" font-size="12" text-anchor="middle">Time (h)</text>
</svg>
</body></html>
